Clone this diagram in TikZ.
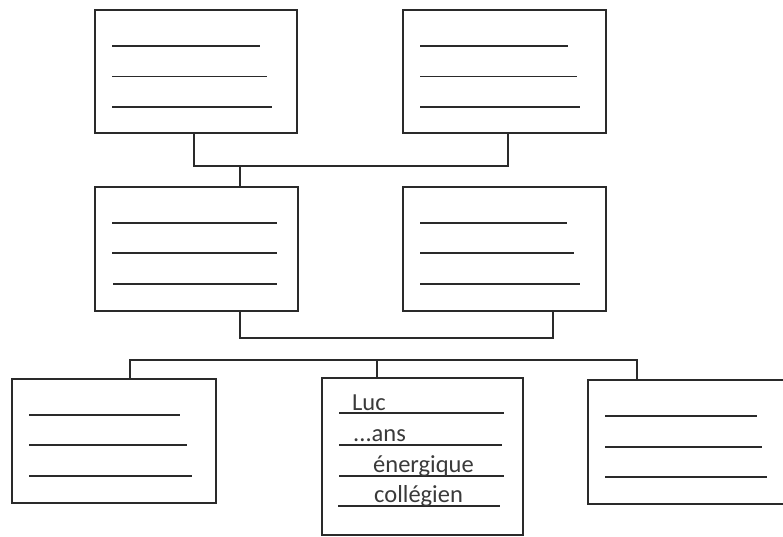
\documentclass[tikz,border=0pt]{standalone}
\usepackage{fontspec}
\setmainfont{Carlito}
\definecolor{ink}{HTML}{2A2A2A}
\definecolor{txt}{HTML}{3A3A3A}
\begin{document}
\begin{tikzpicture}[x=1pt,y=-1pt,
  box/.style={draw=ink,line width=2pt,fill=white,rectangle,inner sep=0pt,outer sep=0pt},
  conn/.style={draw=ink,line width=2pt},
  rule/.style={draw=ink,line width=1.6pt},
  word/.style={font=\fontsize{24.5}{28}\selectfont,text=txt,inner sep=0pt,anchor=base west}]
\useasboundingbox[fill=white] (0,0) rectangle (783,537);
% boxes
\node[box,minimum width=202pt,minimum height=123pt] (tl) at (196,71.5) {};
\node[box,minimum width=203pt,minimum height=123pt] (tr) at (504.5,71.5) {};
\node[box,minimum width=203pt,minimum height=124pt] (ml) at (196.5,249) {};
\node[box,minimum width=203pt,minimum height=124pt] (mr) at (504.5,249) {};
\node[box,minimum width=204pt,minimum height=124pt] (bl) at (114,441) {};
\node[box,minimum width=201pt,minimum height=157pt] (bm) at (422.5,456.5) {};
\node[box,minimum width=212pt,minimum height=124pt] (br) at (694,442) {};
% connector coordinates
\coordinate (ka) at (194,166);
\coordinate (kb) at (508,166);
\coordinate (kc) at (240,166);
\coordinate (m1) at (240,338);
\coordinate (m2) at (553,338);
\coordinate (b1) at (130,359.5);
\coordinate (b2) at (637,359.5);
\coordinate (b3) at (377,359.5);
% connectors
\draw[conn] (tl.south -| ka) -- (ka) -- (kb) -- (tr.south -| kb);
\draw[conn] (kc) -- (ml.north -| kc);
\draw[conn] (ml.south -| m1) -- (m1) -- (m2) -- (mr.south -| m2);
\draw[conn] (bl.north -| b1) -- (b1) -- (b2) -- (br.north -| b2);
\draw[conn] (b3) -- (bm.north -| b3);
% writing lines
\draw[rule] (112,46) -- (260,46) (112,76.5) -- (267,76.5) (112,107) -- (272,107);
\draw[rule] (420,46) -- (568,46) (420,76.5) -- (577,76.5) (420,107) -- (580,107);
\draw[rule] (112,223) -- (277,223) (112,253) -- (277,253) (113,284) -- (277,284);
\draw[rule] (420,223) -- (567,223) (420,253) -- (574,253) (420,284) -- (580,284);
\draw[rule] (29,415) -- (180,415) (29,445) -- (187,445) (29,476) -- (192,476);
\draw[rule] (605,416) -- (757,416) (605,447) -- (762,447) (605,477) -- (767,477);
\draw[rule] (339,413) -- (504,413) (339,445) -- (502,445) (339,476) -- (504,476) (338,506) -- (500,506);
% texts
\node[word] (t1) at (352,410) {Luc};
\node[word] (t2) at (353,441) {...ans};
\node[word] (t3) at (373,472) {énergique};
\node[word] (t4) at (374,502) {collégien};
\end{tikzpicture}
\end{document}
